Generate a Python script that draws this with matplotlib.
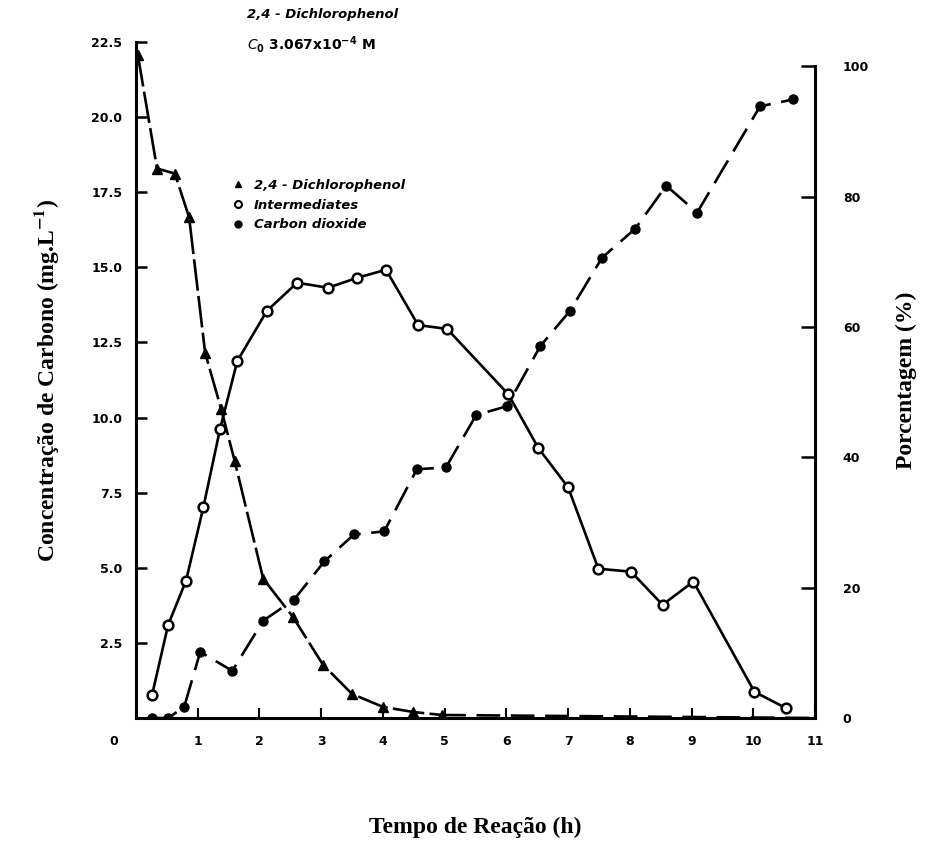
import matplotlib.pyplot as plt
from matplotlib.lines import Line2D
from matplotlib.transforms import ScaledTranslation

plt.rcParams['mathtext.fontset'] = 'stix'

# --- Carbon balance during photocatalytic degradation of 2,4-DCP ---

# 2,4-Dichlorophenol (carbon, mg/L)
dcp_t = [0.03, 0.34, 0.63, 0.86, 1.12, 1.38, 1.60, 2.06, 2.54, 3.03, 3.50, 4.00, 4.49, 4.96]
dcp_c = [22.06, 18.29, 18.12, 16.66, 12.15, 10.28, 8.54, 4.64, 3.37, 1.77, 0.80, 0.37, 0.20, 0.10]
dcp_tail_t = [4.96, 11.0]
dcp_tail_c = [0.10, 0.0]

# Intermediates (carbon, mg/L)
int_t = [0.26, 0.52, 0.81, 1.09, 1.36, 1.64, 2.12, 2.61, 3.11, 3.58, 4.05, 4.57, 5.04,
         6.03, 6.52, 7.00, 7.49, 8.02, 8.53, 9.03, 10.02, 10.53]
int_c = [0.77, 3.10, 4.57, 7.01, 9.61, 11.88, 13.55, 14.49, 14.32, 14.65, 14.92, 13.08, 12.95,
         10.78, 8.98, 7.68, 4.97, 4.87, 3.77, 4.54, 0.87, 0.33]

# Carbon dioxide (carbon, mg/L)
co2_t = [0.26, 0.52, 0.78, 1.04, 1.56, 2.06, 2.56, 3.05, 3.53, 4.02, 4.55, 5.02, 5.51, 6.01,
         6.55, 7.03, 7.55, 8.09, 8.59, 9.09, 10.11, 10.65]
co2_c = [0.0, 0.0, 0.37, 2.20, 1.57, 3.24, 3.94, 5.21, 6.11, 6.21, 8.28, 8.34, 10.08, 10.38,
         12.38, 13.55, 15.32, 16.29, 17.72, 16.82, 20.36, 20.59]

left_ticks = [2.5, 5.0, 7.5, 10.0, 12.5, 15.0, 17.5, 20.0, 22.5]
right_ticks = [0, 20, 40, 60, 80, 100]
x_ticks = [0, 1, 2, 3, 4, 5, 6, 7, 8, 9, 10, 11]

fig = plt.figure(figsize=(9.46, 8.56), dpi=100)
ax = fig.add_axes([0.1438, 0.1612, 0.7177, 0.7897])
ax2 = ax.twinx()

lw = 1.9
ax.plot(dcp_t, dcp_c, color='black', lw=lw, ls=(0, (12, 2)), marker='^',
        ms=6.5, mfc='black', mec='black', zorder=3)
ax.plot(dcp_tail_t, dcp_tail_c, color='black', lw=lw, ls=(0, (9, 4)), zorder=2)
ax.plot(int_t, int_c, color='black', lw=lw, ls='-', marker='o',
        ms=7, mfc='white', mec='black', mew=1.8, zorder=4)
ax.plot(co2_t, co2_c, color='black', lw=lw, ls=(0, (10, 4)), marker='o',
        ms=6.5, mfc='black', mec='black', zorder=3)

tick_font = dict(fontsize=9, fontweight='bold', family='DejaVu Sans')

ax.set_xlim(0, 11)
ax.set_ylim(0, 22.5)
ax.set_xticks(x_ticks)
ax.set_xticklabels([str(v) for v in x_ticks], **tick_font)
ax.set_yticks(left_ticks)
ax.set_yticklabels([f"{v:.1f}" for v in left_ticks], **tick_font)
ax.tick_params(axis='y', direction='in', length=8, width=1.8, pad=10)
ax.tick_params(axis='x', direction='in', length=7, width=1.5, pad=12)

# shift the corner "0" to the left of the origin
shift = ScaledTranslation(-22 / 100, 0, fig.dpi_scale_trans)
first = ax.get_xticklabels()[0]
first.set_transform(first.get_transform() + shift)
ax.get_xaxis().get_major_ticks()[0].tick1line.set_visible(False)

ax2.set_ylim(0, 103.7)
ax2.set_yticks(right_ticks)
ax2.set_yticklabels([str(v) for v in right_ticks], **tick_font)
ax2.tick_params(axis='y', direction='in', length=10, width=1.8, pad=20)

for a in (ax, ax2):
    a.spines['top'].set_visible(False)
    for s in ('left', 'right', 'bottom'):
        a.spines[s].set_linewidth(2.2)
ax.spines['right'].set_visible(False)
ax2.spines['left'].set_visible(False)
ax2.spines['bottom'].set_visible(False)
ax2.spines['right'].set_bounds(0, 100)

label_font = dict(family='Liberation Serif', fontsize=17, fontweight='bold')
ax.set_ylabel(r"Concentração de Carbono (mg.L$^{\mathbf{-1}}$)", labelpad=22, **label_font)
ax2.set_ylabel("Porcentagem (%)", labelpad=19, **label_font)
ax.set_xlabel("Tempo de Reação (h)", labelpad=50, **label_font)

# header text
fig.text(0.261, 0.983, "2,4 - Dichlorophenol", fontsize=9.5, fontweight='bold',
         style='italic', va='center')
fig.text(0.261, 0.948, r"$\mathbf{\mathit{C}_0}$ 3.067x10$^{\mathbf{-4}}$ M", fontsize=10,
         fontweight='bold', va='center', math_fontfamily='dejavusans')

handles = [
    Line2D([], [], ls='none', marker='^', ms=5, mfc='black', mec='black'),
    Line2D([], [], ls='none', marker='o', ms=5, mfc='white', mec='black', mew=1.5),
    Line2D([], [], ls='none', marker='o', ms=5, mfc='black', mec='black'),
]
labels = ["2,4 - Dichlorophenol", "Intermediates", "Carbon dioxide"]
leg = ax.legend(handles, labels, loc='upper left', bbox_to_anchor=(0.125, 0.815),
                frameon=False, handlelength=0.8, handletextpad=0.8,
                labelspacing=0.5, prop=dict(size=9.5, weight='bold', style='italic'))

fig.savefig("out.png", dpi=100)
